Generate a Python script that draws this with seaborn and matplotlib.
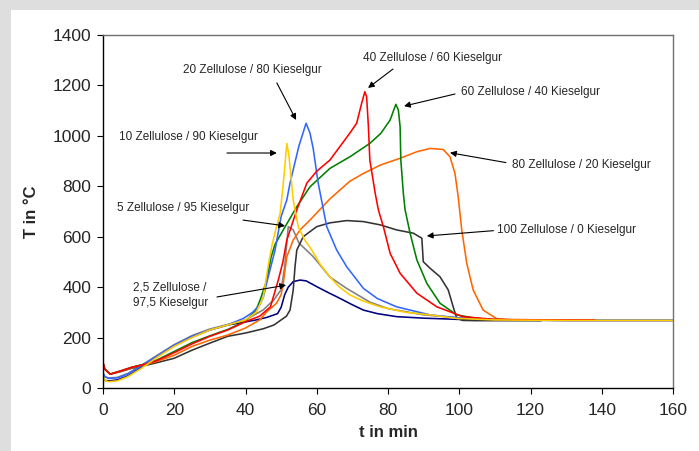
import matplotlib
matplotlib.use("Agg")
import matplotlib.pyplot as plt
import seaborn as sns
import pandas as pd
from matplotlib.patches import Rectangle

sns.set_style("white")
plt.rcParams['font.family'] = ['Liberation Sans', 'DejaVu Sans']

# ---------------- data ----------------
t_navy = [0, 0.5, 1.5, 4, 7, 11, 15, 20, 25, 30, 35, 40, 43, 46, 49, 50, 51, 52, 53.4, 55.3, 57, 60, 63.7, 65.6, 70, 73.1, 77, 82.4, 90, 100, 110, 130, 160]
T_navy = [45, 30, 28, 32, 48, 85, 122, 168, 202, 230, 250, 262, 270, 280, 295, 320, 370, 400, 422, 428, 425, 402, 375, 362, 330, 309, 295, 283, 277, 272, 269, 268, 268]

t_grey = [0, 0.5, 1.5, 4, 7, 11, 15, 20, 25, 30, 35, 40, 45, 48, 50, 51, 52, 53.4, 55, 59, 63.7, 68.4, 75, 80, 90, 100, 110, 130, 160]
T_grey = [60, 45, 40, 42, 58, 92, 128, 172, 208, 234, 252, 270, 310, 350, 390, 480, 640, 627, 575, 521, 440, 395, 340, 315, 290, 278, 271, 268, 268]

t_yellow = [0, 0.5, 1.5, 4, 7, 11, 15, 20, 25, 30, 35, 40, 43, 45, 46.3, 47.5, 48.7, 49.7, 50.6, 51.6, 52.2, 53.4, 54.8, 56.5, 58.6, 61, 63.7, 66, 69.3, 73, 77.8, 85, 91.8, 99.3, 110, 130, 160]
T_yellow = [48, 30, 25, 28, 45, 80, 120, 165, 200, 230, 250, 270, 300, 360, 481, 570, 640, 690, 810, 970, 920, 745, 640, 590, 547, 490, 441, 405, 369, 345, 322, 300, 290, 276, 270, 268, 268]

t_blue = [0, 0.5, 1.5, 4, 7, 11, 15, 20, 25, 30, 35, 39.4, 42, 44, 45, 46, 48.3, 50, 51.6, 52.5, 55, 57, 58.1, 59, 60.4, 62.8, 65.6, 68.4, 73.1, 77, 82.4, 91.8, 100, 110, 130, 160]
T_blue = [60, 45, 38, 40, 55, 90, 125, 170, 205, 230, 250, 276, 300, 330, 360, 420, 547, 680, 746, 813, 960, 1050, 1011, 950, 813, 640, 547, 481, 395, 355, 322, 290, 278, 271, 268, 268]

t_red = [0, 0.5, 2, 5, 8, 12, 15, 20, 25, 30, 35, 40, 44, 47, 49.2, 50.5, 51.6, 54.4, 57.2, 60, 63.7, 69.3, 71.2, 72.6, 73.5, 74, 74.5, 74.9, 76.4, 77.3, 78.7, 80.6, 83.4, 88.1, 93.7, 101, 110, 125, 138]
T_red = [100, 75, 55, 68, 82, 95, 108, 140, 175, 205, 230, 263, 285, 322, 428, 500, 587, 706, 812, 860, 904, 1011, 1050, 1129, 1175, 1155, 1036, 904, 773, 706, 640, 534, 455, 376, 322, 283, 272, 270, 270]

t_green = [0, 0.5, 2, 5, 8, 12, 15, 20, 25, 30, 35, 40, 43, 44.1, 46, 47.2, 48.3, 50.6, 54.4, 58.1, 63.7, 69.3, 74.9, 78, 80.6, 82.2, 82.9, 83.4, 83.6, 84.3, 84.8, 86.2, 88.1, 90.9, 94.6, 99.3, 104.9, 110, 115]
T_green = [100, 75, 55, 68, 82, 96, 110, 145, 180, 207, 232, 265, 310, 349, 428, 520, 570, 627, 719, 798, 871, 917, 970, 1010, 1063, 1125, 1103, 1036, 904, 773, 706, 614, 508, 415, 336, 290, 276, 271, 270]

t_orange = [0, 0.5, 2, 5, 8, 12, 15, 20, 25, 30, 35, 40, 44, 46, 48.7, 50, 50.6, 51.2, 51.6, 53.4, 55.3, 58.1, 63.7, 69.3, 73.1, 78, 83.4, 88.1, 91.8, 93.7, 95.5, 97.4, 98.8, 99.7, 100.7, 102.1, 103.9, 106.7, 110.5, 115, 125]
T_orange = [100, 75, 55, 66, 80, 93, 105, 130, 165, 190, 210, 238, 270, 303, 336, 370, 415, 480, 521, 587, 627, 666, 750, 820, 851, 885, 911, 937, 950, 948, 946, 917, 851, 759, 627, 495, 389, 309, 275, 270, 270]

t_dark = [0, 0.5, 2, 5, 8, 12, 15, 20, 25, 30, 35, 40, 45, 48, 50, 51.5, 52.5, 53.4, 53.9, 54.4, 56.2, 60, 63.7, 68.4, 73.1, 77.8, 82.4, 87.1, 89.5, 89.9, 91.8, 94.6, 96.9, 98.3, 99.3, 101, 105, 115, 123]
T_dark = [100, 75, 55, 65, 78, 90, 100, 118, 150, 178, 205, 218, 235, 250, 270, 285, 309, 389, 481, 547, 600, 640, 655, 664, 660, 647, 627, 614, 594, 501, 475, 441, 389, 322, 276, 268, 267, 267, 267]

labels = ["2,5 Zellulose /\n97,5 Kieselgur", "5 Zellulose / 95 Kieselgur",
          "10 Zellulose / 90 Kieselgur", "20 Zellulose / 80 Kieselgur",
          "40 Zellulose / 60 Kieselgur", "60 Zellulose / 40 Kieselgur",
          "80 Zellulose / 20 Kieselgur", "100 Zellulose / 0 Kieselgur"]

x_ticks = [0, 20, 40, 60, 80, 100, 120, 140, 160]
y_ticks = [0, 200, 400, 600, 800, 1000, 1200, 1400]

# ---------------- figure ----------------
fig = plt.figure(figsize=(6.99, 4.51), dpi=100)
fig.patch.set_facecolor('#dedede')
bg = Rectangle((11 / 699, 0), 1, (451 - 10) / 451, transform=fig.transFigure,
               facecolor='white', edgecolor='none', zorder=-10)
fig.add_artist(bg)
ax = fig.add_axes([103 / 699, (451 - 388) / 451, 570 / 699, 353 / 451])
ax.set_zorder(1)
ax.set_facecolor('white')

series = [
    (t_navy, T_navy, '#000080'),
    (t_grey, T_grey, '#808080'),
    (t_dark, T_dark, '#333333'),
    (t_orange, T_orange, '#FF6600'),
    (t_green, T_green, '#008000'),
    (t_blue, T_blue, '#3366FF'),
    (t_red, T_red, '#FF0000'),
    (t_yellow, T_yellow, '#FFCC00'),
]
for tt, TT, col in series:
    df = pd.DataFrame({'t': tt, 'T': TT})
    sns.lineplot(data=df, x='t', y='T', ax=ax, color=col, lw=1.15,
                 sort=False, estimator=None)

ax.set_xlim(0, 160)
ax.set_ylim(0, 1400)
ax.set_xticks(x_ticks)
ax.set_yticks(y_ticks)
ax.tick_params(axis='both', which='major', labelsize=12.5, direction='out',
               length=4.5, width=0.8, color='black', left=True, bottom=True,
               top=False, right=False)
ax.tick_params(axis='x', pad=6)
ax.tick_params(axis='y', pad=4)
ax.set_xlabel('t in min', fontsize=12, fontweight='bold', labelpad=5)
ax.set_ylabel('T in °C', fontsize=12, fontweight='bold', labelpad=10)

for side in ['left', 'bottom']:
    ax.spines[side].set_color('black')
    ax.spines[side].set_linewidth(1.0)
for side in ['top', 'right']:
    ax.spines[side].set_visible(True)
    ax.spines[side].set_color('#707070')
    ax.spines[side].set_linewidth(1.0)

# ---------------- annotations ----------------
fs = 8.5
ap = dict(arrowstyle='-|>', color='black', lw=0.8, mutation_scale=9, shrinkA=0, shrinkB=0)
annots = [
    # text, text pos, ha, arrow start, arrow tip
    (labels[3], (42.0, 1261), 'center', (48.8, 1210), (54.2, 1063)),
    (labels[2], (24.0, 995), 'center', (34.8, 932), (48.8, 932)),
    (labels[1], (22.6, 714), 'center', (39.3, 666), (51.1, 643)),
    (labels[0], (8.4, 367), 'left', (32.0, 361), (51.4, 408)),
    (labels[4], (92.5, 1307), 'center', (81.4, 1265), (74.4, 1190)),
    (labels[5], (100.5, 1175), 'left', (98.8, 1166), (84.5, 1118)),
    (labels[6], (114.7, 884), 'left', (113.1, 894), (97.4, 933)),
    (labels[7], (110.5, 627), 'left', (109.6, 624), (90.9, 603)),
]
for txt, pos, ha, start, tip in annots:
    ax.text(pos[0], pos[1], txt, ha=ha, va='center', fontsize=fs,
            linespacing=1.35, zorder=5)
    ax.annotate('', xy=tip, xytext=start, arrowprops=ap, zorder=5)

fig.savefig('out.png', dpi=100, facecolor=fig.get_facecolor())
